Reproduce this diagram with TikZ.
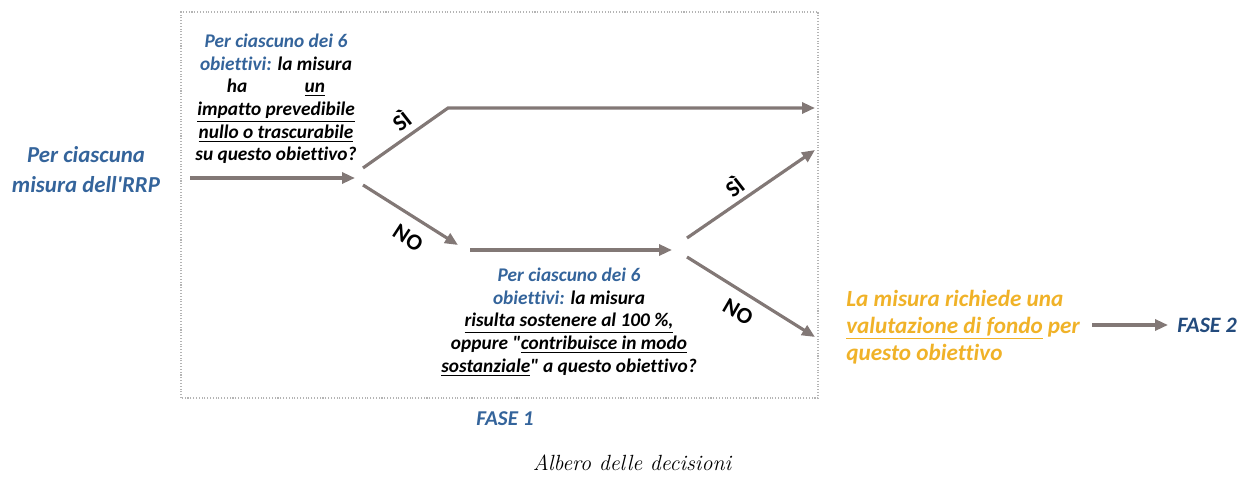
\documentclass[tikz,border=0pt]{standalone}
\usepackage{fontspec}
\newfontfamily\calib[Ligatures={TeXOff,NoCommon}]{Carlito}
\usetikzlibrary{positioning}
\usetikzlibrary{arrows.meta}
\definecolor{fblue}{RGB}{52,100,155}
\definecolor{fdark}{RGB}{35,75,125}
\definecolor{fyel}{RGB}{240,178,40}
\definecolor{fgray}{RGB}{130,120,118}
\definecolor{fbox}{RGB}{180,180,180}

\begin{document}
\begin{tikzpicture}[
  txt/.style={inner sep=0pt, font=\calib\bfseries\itshape\fontsize{11}{12.9}\selectfont, align=center},
  big/.style={inner sep=0pt, font=\calib\bfseries\itshape\fontsize{13}{17}\selectfont},
  lab/.style={inner sep=0pt, font=\calib\bfseries\fontsize{13}{15}\selectfont},
  arr/.style={draw=fgray, line width=1.8pt, -{Triangle[length=2.6mm,width=2.2mm]}}]
	\useasboundingbox (0,0) rectangle (24.8,9.72);
	\draw[fbox, densely dotted, line width=0.6pt] (3.62,1.76) rectangle (16.36,9.48);
	
	% texts
	\node (rrp) [big, text=fblue, align=center] at (1.72,6.32) {Per ciascuna\\misura dell'RRP};
	\node (q1) [txt] at (5.52,7.74) {{\color{fblue}Per ciascuno dei 6}\\
		{\color{fblue}obiettivi:} la misura\\
		ha\hspace{1.15cm}\underline{un}\\
		\underline{impatto prevedibile}\\
		\underline{nullo o trascurabile}\\
		su questo obiettivo?};
	\node (q2) [txt] at (11.38,3.28) {{\color{fblue}Per ciascuno dei 6}\\
		{\color{fblue}obiettivi:} la misura\\
		\underline{risulta sostenere al 100 \%,}\\
		oppure "\underline{contribuisce in modo}\\
		\underline{sostanziale}" a questo obiettivo?};
	\node (val) [txt, font=\calib\bfseries\itshape\fontsize{13.2}{15.3}\selectfont, text=fyel, align=left, anchor=west] at (16.92,3.18)
		{La misura richiede una\\\underline{valutazione di fondo} per\\questo obiettivo};
	\node (f1) [big, text=fblue, font=\calib\bfseries\itshape\fontsize{12}{14}\selectfont] at (10.1,1.34) {FASE 1};
	\node (cap) [inner sep=0pt, font=\itshape\fontsize{12.5}{15}\selectfont] at (12.64,0.46) {Albero delle decisioni};
	
	% branch points
	\coordinate (a0s) at (3.8,6.16);
	\coordinate (a0e) at (7.1,6.16);
	\coordinate (y1s) at (7.26,6.36);
	\coordinate (y1k) at (8.96,7.56);
	\coordinate (y1e) at (16.3,7.56);
	\coordinate (n1s) at (7.26,6.02);
	\coordinate (n1e) at (9.16,4.82);
	\coordinate (m1s) at (9.4,4.72);
	\coordinate (m1e) at (13.44,4.72);
	\coordinate (y2s) at (13.74,4.96);
	\coordinate (y2e) at (16.3,6.72);
	\coordinate (n2s) at (13.74,4.58);
	\coordinate (n2e) at (16.3,2.98);
	\coordinate (f2s) at (21.84,3.22);
	\coordinate (f2e) at (23.36,3.22);
	\node (f2) [big, text=fdark, font=\calib\bfseries\itshape\fontsize{12.5}{14}\selectfont, anchor=west, right=0.18cm of f2e] {FASE 2};
	
	\draw[arr] (a0s) -- (a0e);
	\draw[arr] (y1s) -- (y1k) -- (y1e);
	\draw[arr] (n1s) -- (n1e);
	\draw[arr] (m1s) -- (m1e);
	\draw[arr] (y2s) -- (y2e);
	\draw[arr] (n2s) -- (n2e);
	\draw[arr] (f2s) -- (f2e);
	
	% labels
	\node (si1) [lab, rotate=38] at (8.02,7.32) {SÌ};
	\node (no1) [lab, rotate=-33] at (8.16,4.96) {NO};
	\node (si2) [lab, rotate=38] at (14.68,6.0) {SÌ};
	\node (no2) [lab, rotate=-30] at (14.76,3.48) {NO};
\end{tikzpicture}
\end{document}
